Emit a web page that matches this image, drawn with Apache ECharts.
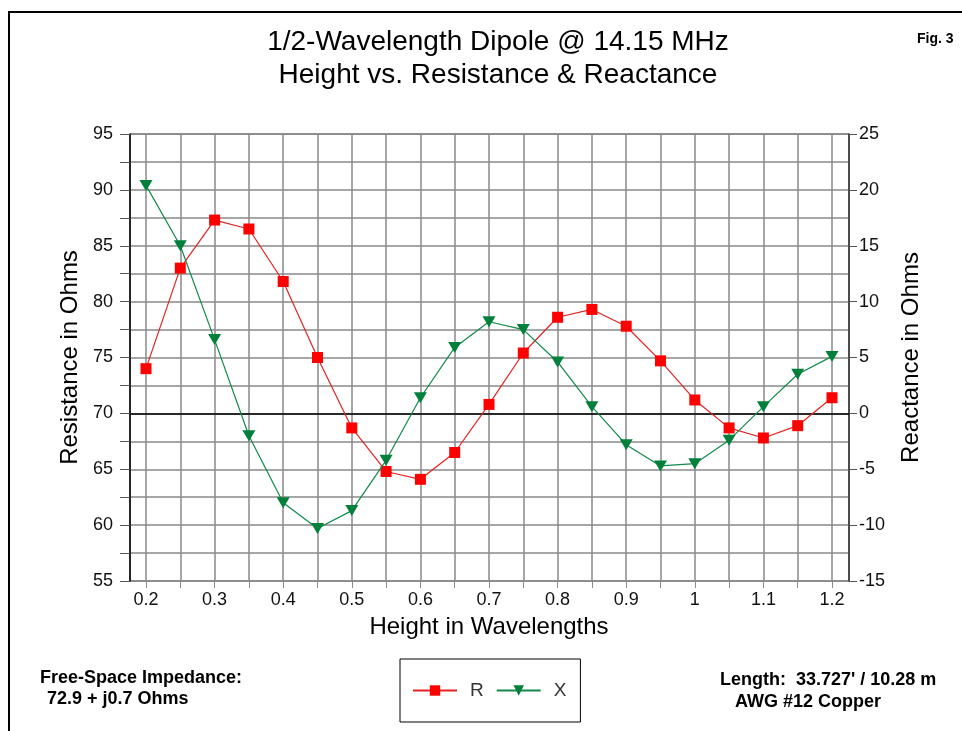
<!DOCTYPE html>
<html>
<head>
<meta charset="utf-8">
<script src="https://cdn.jsdelivr.net/npm/echarts@6/dist/echarts.min.js"></script>
<style>
html,body{margin:0;padding:0;background:#fff;}
#chart{width:962px;height:731px;}
</style>
</head>
<body>
<div id="chart"></div>
<script>
// Heights in wavelengths
var heights = [0.2,0.25,0.3,0.35,0.4,0.45,0.5,0.55,0.6,0.65,0.7,0.75,0.8,0.85,0.9,0.95,1.0,1.05,1.1,1.15,1.2];
// Resistance (Ohms), left axis
var resistance = [74.0,83.0,87.3,86.5,81.8,75.0,68.7,64.8,64.1,66.5,70.8,75.4,78.6,79.3,77.8,74.7,71.2,68.7,67.8,68.9,71.4];
// Reactance (Ohms), right axis
var reactance = [20.4,15.0,6.6,-2.0,-8.0,-10.3,-8.7,-4.2,1.4,5.9,8.2,7.5,4.6,0.6,-2.8,-4.7,-4.5,-2.4,0.6,3.5,5.1];

var titleText = '1/2-Wavelength Dipole @ 14.15 MHz\nHeight vs. Resistance & Reactance';
var xName = 'Height in Wavelengths';
var yLeftName = 'Resistance in Ohms';
var yRightName = 'Reactance in Ohms';

var FONT = '"Liberation Sans", Arial, sans-serif';
var NARROW = '"Liberation Sans Narrow", "Liberation Sans", Arial, sans-serif';
var GRID_COLOR = '#8a8a8a';

function pairs(xs, ys){ return xs.map(function(x,i){ return [x, ys[i]]; }); }

var chart = echarts.init(document.getElementById('chart'), null, {renderer:'canvas'});
var option = {
  backgroundColor: '#fff',
  animation: false,
  title: {
    text: titleText,
    left: 493, top: 21, textAlign: 'center',
    textStyle: {fontFamily: FONT, fontSize: 28, fontWeight: 'normal', color: '#000', lineHeight: 33}
  },
  legend: {
    left: 400, top: 659,
    padding: [22, 14, 22, 12],
    borderColor: '#000', borderWidth: 1,
    itemWidth: 44, itemHeight: 13, itemGap: 12,
    textStyle: {fontFamily: FONT, fontSize: 19, color: '#333', padding: [0,0,0,8]},
    data: ['R','X']
  },
  grid: [
    {left: 130, right: 113, top: 134, bottom: 150, show: true, borderColor: '#333', borderWidth: 1, backgroundColor: 'transparent'},
    {left: 146, right: 130, top: 134, bottom: 150}
  ],
  xAxis: [
    {
      gridIndex: 0, type: 'value', min: 0.175, max: 1.225,
      axisLine: {show: true, onZero: true, onZeroAxisIndex: 1, lineStyle: {color: '#000', width: 1.5}},
      axisTick: {show: false}, axisLabel: {show: false}, splitLine: {show: false}
    },
    {
      gridIndex: 1, type: 'value', min: 0.2, max: 1.2, interval: 0.05,
      name: xName, nameLocation: 'middle', nameGap: 34,
      nameTextStyle: {fontFamily: FONT, fontSize: 24, color: '#000'},
      axisLine: {show: false, onZero: false},
      axisTick: {show: true, inside: false, length: 7, lineStyle: {color: GRID_COLOR}},
      axisLabel: {
        margin: 10, fontFamily: FONT, fontSize: 18, color: '#111',
        formatter: function(v){ var r = Math.round(v*100); return (r % 10 === 0) ? String(r/100) : ''; }
      },
      splitLine: {show: true, lineStyle: {color: GRID_COLOR, width: 1.5}}
    }
  ],
  yAxis: [
    {
      gridIndex: 0, type: 'value', position: 'left', min: 55, max: 95, interval: 2.5,
      name: yLeftName, nameLocation: 'middle', nameGap: 44,
      nameTextStyle: {fontFamily: FONT, fontSize: 24, color: '#000'},
      axisLine: {show: true, onZero: false, lineStyle: {color: '#000', width: 1.5}},
      axisTick: {show: true, length: 10, lineStyle: {color: '#555'}},
      axisLabel: {
        margin: 17, fontFamily: FONT, fontSize: 18, color: '#111',
        formatter: function(v){ return (Math.round(v*10) % 50 === 0) ? String(v) : ''; }
      },
      splitLine: {show: true, lineStyle: {color: GRID_COLOR, width: 1.5}}
    },
    {
      gridIndex: 0, type: 'value', position: 'right', min: -15, max: 25, interval: 5,
      name: yRightName, nameLocation: 'middle', nameGap: 50,
      nameTextStyle: {fontFamily: FONT, fontSize: 24, color: '#000'},
      axisLine: {show: true, onZero: false, lineStyle: {color: '#333', width: 1.5}},
      axisTick: {show: true, length: 8, lineStyle: {color: '#555'}},
      axisLabel: {margin: 10, fontFamily: FONT, fontSize: 18, color: '#111'},
      splitLine: {show: false}
    },
    {gridIndex: 1, type: 'value', min: 55, max: 95, show: false, splitLine: {show: false}},
    {gridIndex: 1, type: 'value', min: -15, max: 25, show: false, splitLine: {show: false}}
  ],
  series: [
    {
      name: 'R', type: 'line', xAxisIndex: 1, yAxisIndex: 2,
      data: pairs(heights, resistance),
      symbol: 'rect', symbolSize: 11,
      lineStyle: {color: '#e52222', width: 1.2},
      itemStyle: {color: '#ff0000'},
      z: 3
    },
    {
      name: 'X', type: 'line', xAxisIndex: 1, yAxisIndex: 3,
      data: pairs(heights, reactance),
      symbol: 'triangle', symbolRotate: 180, symbolSize: [13, 11],
      lineStyle: {color: '#108a48', width: 1.2},
      itemStyle: {color: '#00803a'},
      z: 4
    }
  ],
  graphic: [
    {type: 'rect', shape: {x: 9, y: 12, width: 1000, height: 800}, style: {fill: 'none', stroke: '#000', lineWidth: 2}, silent: true},
    {type: 'text', left: 917, top: 32, style: {text: 'Fig. 3', font: 'bold 14px ' + NARROW, fill: '#000'}},
    {type: 'text', left: 40, top: 669, style: {text: 'Free-Space Impedance:', font: 'bold 18px ' + NARROW, fill: '#000'}},
    {type: 'text', left: 47, top: 690, style: {text: '72.9 + j0.7 Ohms', font: 'bold 18px ' + NARROW, fill: '#000'}},
    {type: 'text', left: 720, top: 671, style: {text: "Length:  33.727' / 10.28 m", font: 'bold 18px ' + NARROW, fill: '#000'}},
    {type: 'text', left: 735, top: 693, style: {text: 'AWG #12 Copper', font: 'bold 18px ' + NARROW, fill: '#000'}}
  ]
};
chart.setOption(option);
</script>
</body>
</html>
